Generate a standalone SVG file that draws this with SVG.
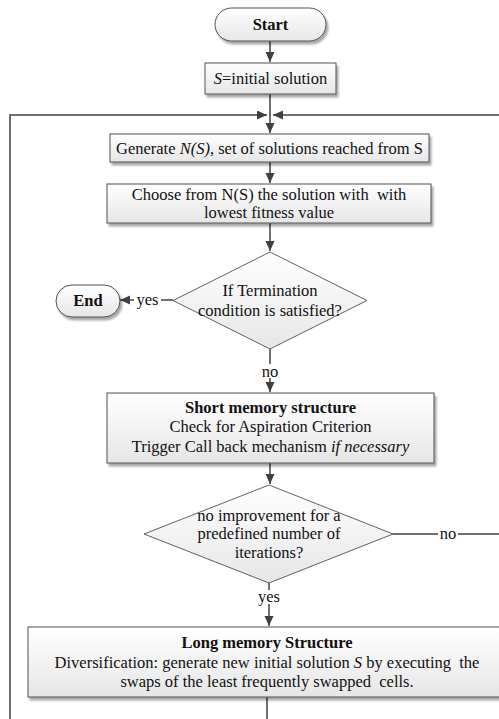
<svg xmlns="http://www.w3.org/2000/svg" width="499" height="719" viewBox="0 0 499 719">
  <defs>
    <linearGradient id="boxFill" x1="0" y1="0" x2="0" y2="1">
      <stop offset="0" stop-color="#ffffff"/>
      <stop offset="1" stop-color="#e6e6e6"/>
    </linearGradient>
    <filter id="shadow" x="-10%" y="-20%" width="130%" height="160%">
      <feGaussianBlur in="SourceAlpha" stdDeviation="1.2"/>
      <feOffset dx="2" dy="2.5" result="off"/>
      <feComponentTransfer><feFuncA type="linear" slope="0.35"/></feComponentTransfer>
      <feMerge><feMergeNode/><feMergeNode in="SourceGraphic"/></feMerge>
    </filter>
    <marker id="arrow" markerUnits="userSpaceOnUse" markerWidth="11" markerHeight="10" refX="10" refY="4.5" orient="auto">
      <path d="M0,0 L10,4.5 L0,9 Z" fill="#404040"/>
    </marker>
  </defs>
  <style>
    .box { fill: url(#boxFill); stroke: #505050; stroke-width: 1; filter: url(#shadow); }
    .dia { fill: url(#boxFill); stroke: #505050; stroke-width: 0.9; }
    .txt { font-family: "Liberation Serif", "Times New Roman", serif; font-size: 16.5px; fill: #111; text-anchor: middle; white-space: pre; }
    .b { font-weight: bold; }
    .i { font-style: italic; }
    .conn { fill: none; stroke: #404040; stroke-width: 1.5; }
    .lbl-bg { fill: #ffffff; }
  </style>

  <!-- connectors -->
  <g id="connectors">
    <path class="conn" d="M270,41 V62" marker-end="url(#arrow)"/>
    <path class="conn" d="M270,94 V115"/>
    <path class="conn" d="M270,115 V133" marker-end="url(#arrow)"/>
    <path class="conn" d="M270,162 V183" marker-end="url(#arrow)"/>
    <path class="conn" d="M270,223 V251" marker-end="url(#arrow)"/>
    <path class="conn" d="M173,300 H120" marker-end="url(#arrow)"/>
    <path class="conn" d="M270,349 V392" marker-end="url(#arrow)"/>
    <path class="conn" d="M270,463 V484" marker-end="url(#arrow)"/>
    <path class="conn" d="M269,583 V626" marker-end="url(#arrow)"/>
    <path class="conn" d="M393,534 H520 V115 H273" marker-end="url(#arrow)"/>
    <path class="conn" d="M267,697 V740 H10 V115 H267" marker-end="url(#arrow)"/>
    <!-- branch labels -->
    <rect class="lbl-bg" x="134" y="292" width="27" height="14"/>
    <text class="txt" x="147.5" y="305">yes</text>
    <rect class="lbl-bg" x="260" y="364" width="20" height="14"/>
    <text class="txt" x="270" y="377">no</text>
    <rect class="lbl-bg" x="438" y="527" width="20" height="14"/>
    <text class="txt" x="448" y="539">no</text>
    <rect class="lbl-bg" x="255" y="590" width="28" height="14"/>
    <text class="txt" x="269" y="602">yes</text>
  </g>

  <g id="start">
    <rect class="box" x="215" y="8" width="111" height="33" rx="16.5"/>
    <text class="txt b" x="270.5" y="30">Start</text>
  </g>

  <g id="init">
    <rect class="box" x="205" y="63" width="131" height="31"/>
    <text class="txt" x="270.5" y="84"><tspan class="i">S</tspan>=initial solution</text>
  </g>

  <g id="generate">
    <rect class="box" x="110" y="134" width="319" height="28"/>
    <text class="txt" x="269.5" y="153.5">Generate <tspan class="i">N(S)</tspan>, set of solutions reached from S</text>
  </g>

  <g id="choose">
    <rect class="box" x="107" y="184" width="324" height="39"/>
    <text class="txt" x="269" y="199.5">Choose from N(S) the solution with  with</text>
    <text class="txt" x="269" y="218">lowest fitness value</text>
  </g>

  <g id="termination">
    <path class="dia" d="M270,252 L367,300.5 L270,349 L173,300.5 Z"/>
    <text class="txt" x="270" y="296">If Termination</text>
    <text class="txt" x="270" y="315.5">condition is satisfied?</text>
  </g>

  <g id="end">
    <rect class="box" x="56" y="285" width="64" height="32" rx="16"/>
    <text class="txt b" x="88" y="306">End</text>
  </g>

  <g id="short-memory">
    <rect class="box" x="107" y="393" width="327" height="70"/>
    <text class="txt b" x="270.5" y="412.5">Short memory structure</text>
    <text class="txt" x="270.5" y="432">Check for Aspiration Criterion</text>
    <text class="txt" x="270.5" y="452">Trigger Call back mechanism <tspan class="i">if necessary</tspan></text>
  </g>

  <g id="improvement">
    <path class="dia" d="M269,485 L393,534 L269,583 L144,534 Z"/>
    <text class="txt" x="269" y="520.5">no improvement for a</text>
    <text class="txt" x="269" y="539">predefined number of</text>
    <text class="txt" x="269" y="558">iterations?</text>
  </g>

  <g id="long-memory">
    <rect class="box" x="28" y="627" width="478" height="70"/>
    <text class="txt b" x="267" y="647.5">Long memory Structure</text>
    <text class="txt" x="267" y="667.5">Diversification: generate new initial solution <tspan class="i">S</tspan> by executing  the</text>
    <text class="txt" x="267" y="687">swaps of the least frequently swapped  cells.</text>
  </g>
</svg>
